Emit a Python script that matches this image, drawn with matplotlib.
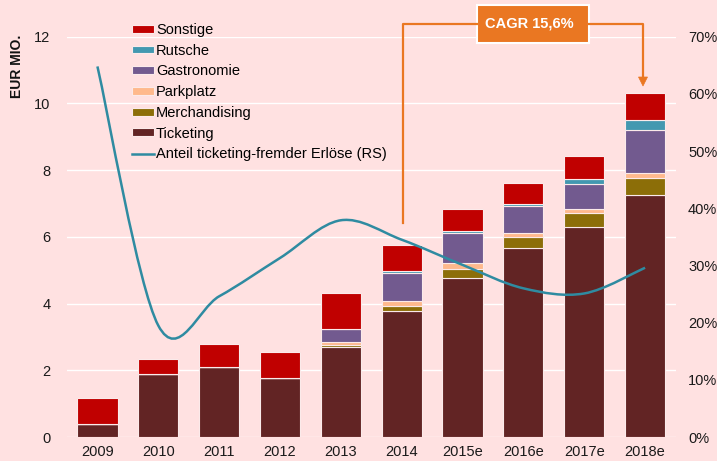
import matplotlib
matplotlib.use("Agg")
import matplotlib.pyplot as plt
import numpy as np
from matplotlib.path import Path
from matplotlib.patches import PathPatch, Rectangle
from matplotlib.lines import Line2D
from matplotlib.patches import Patch

plt.rcParams['font.family'] = ['Liberation Sans', 'DejaVu Sans']

years = ["2009", "2010", "2011", "2012", "2013", "2014", "2015e", "2016e", "2017e", "2018e"]
ticketing     = [0.39, 1.88, 2.09, 1.76, 2.69, 3.77, 4.78, 5.66, 6.31, 7.26]
merchandising = [0.00, 0.00, 0.00, 0.00, 0.08, 0.17, 0.27, 0.33, 0.40, 0.50]
parkplatz     = [0.00, 0.00, 0.00, 0.00, 0.07, 0.15, 0.16, 0.14, 0.13, 0.15]
gastronomie   = [0.00, 0.00, 0.00, 0.00, 0.39, 0.82, 0.92, 0.80, 0.74, 1.28]
rutsche       = [0.00, 0.00, 0.00, 0.00, 0.00, 0.06, 0.06, 0.05, 0.15, 0.30]
sonstige      = [0.78, 0.47, 0.71, 0.79, 1.08, 0.80, 0.63, 0.62, 0.69, 0.82]
anteil        = [0.648, 0.195, 0.246, 0.313, 0.379, 0.345, 0.301, 0.260, 0.251, 0.296]

left_ticks = [0, 2, 4, 6, 8, 10, 12]
right_ticks = [0, 0.1, 0.2, 0.3, 0.4, 0.5, 0.6, 0.7]
right_labels = ["0%", "10%", "20%", "30%", "40%", "50%", "60%", "70%"]

series = [
    ("Ticketing", ticketing, "#622424"),
    ("Merchandising", merchandising, "#8C6E08"),
    ("Parkplatz", parkplatz, "#FFB98C"),
    ("Gastronomie", gastronomie, "#725A8F"),
    ("Rutsche", rutsche, "#4398B0"),
    ("Sonstige", sonstige, "#C00000"),
]
line_color = "#2F8BA1"
bg = "#FFE1E1"
orange = "#EA7722"

W, H = 717, 461
fig = plt.figure(figsize=(W / 100, H / 100), dpi=100, facecolor=bg)
ax = fig.add_axes([67 / W, 1 - 437 / H, (675.5 - 67) / W, (437 - 36.7) / H])
ax.set_facecolor(bg)
ax2 = ax.twinx()

x = np.arange(len(years))
bottom = np.zeros(len(years))
handles = {}
for name, vals, col in series:
    v = np.array(vals)
    ax.bar(x, v, 0.66, bottom=bottom, color=col, edgecolor="#FBEAEA", linewidth=0.8, zorder=3)
    handles[name] = Patch(facecolor=col, edgecolor="#FBEAEA", linewidth=0.8)
    bottom += v

ax.set_xlim(-0.5, len(years) - 0.5)
ax.set_ylim(0, 12)
ax.set_yticks(left_ticks)
ax.set_xticks(x)
ax.set_xticklabels(years)
ax.grid(axis="y", color="white", linewidth=1.0, zorder=0)
ax.set_axisbelow(True)
for s in ax.spines.values():
    s.set_visible(False)
for s in ax2.spines.values():
    s.set_visible(False)
ax.tick_params(axis="both", length=0, labelsize=10.5, colors="#1a1a1a")
ax.tick_params(axis="y", pad=12)
ax.tick_params(axis="x", pad=6)

ax2.set_ylim(0, 0.7)
ax2.set_yticks(right_ticks)
ax2.set_yticklabels(right_labels)
ax2.tick_params(axis="y", length=0, labelsize=10.5, pad=9, colors="#1a1a1a")

# smoothed line (Excel-like Catmull-Rom Bezier) computed in display space
fig.canvas.draw()
pts = ax2.transData.transform(np.column_stack([x, anteil]))
verts = [pts[0]]
codes = [Path.MOVETO]
n = len(pts)
for i in range(n - 1):
    p0 = pts[max(i - 1, 0)]
    p1 = pts[i]
    p2 = pts[i + 1]
    p3 = pts[min(i + 2, n - 1)]
    c1 = p1 + (p2 - p0) / 6.0
    c2 = p2 - (p3 - p1) / 6.0
    verts += [c1, c2, p2]
    codes += [Path.CURVE4] * 3
verts = ax2.transData.inverted().transform(np.array(verts))
path = Path(verts, codes)
ax2.add_patch(PathPatch(path, facecolor="none", edgecolor=line_color, linewidth=1.8, zorder=5, clip_on=False))

# legend
order = ["Sonstige", "Rutsche", "Gastronomie", "Parkplatz", "Merchandising", "Ticketing"]
hl = [handles[k] for k in order] + [Line2D([0], [0], color=line_color, linewidth=1.8)]
labels = order + ["Anteil ticketing-fremder Erlöse (RS)"]
fig.legend(hl, labels, loc="upper left", bbox_to_anchor=(132 / W, 1 - 23 / H),
           frameon=False, fontsize=10.5, handlelength=1.5, handleheight=0.45,
           handletextpad=0.15, labelspacing=0.46, borderaxespad=0, borderpad=0)

# y label
fig.text(17 / W, 1 - 66 / H, "EUR MIO.", rotation=90, fontsize=10, fontweight="bold",
         ha="center", va="center", color="#111111")

# CAGR annotation
def fp(px, py):
    return (px / W, 1 - py / H)

lw = 1.6
fig.add_artist(Line2D([fp(477, 24)[0], fp(403, 24)[0], fp(403, 24)[0]],
                      [fp(477, 24)[1], fp(403, 24)[1], fp(403, 223)[1]],
                      color=orange, linewidth=lw, transform=fig.transFigure))
fig.add_artist(Line2D([fp(589, 24)[0], fp(643, 24)[0], fp(643, 24)[0]],
                      [fp(589, 24)[1], fp(643, 24)[1], fp(643, 78)[1]],
                      color=orange, linewidth=lw, transform=fig.transFigure))
tri = Path([fp(638.5, 77), fp(647.5, 77), fp(643, 86), fp(638.5, 77)],
           [Path.MOVETO, Path.LINETO, Path.LINETO, Path.CLOSEPOLY])
fig.add_artist(PathPatch(tri, facecolor=orange, edgecolor=orange, linewidth=0.5, transform=fig.transFigure))
bx0, by0 = fp(477, 43)
bx1, by1 = fp(589, 5)
fig.add_artist(Rectangle((bx0, by0), bx1 - bx0, by1 - by0, facecolor=orange, edgecolor="white",
                         linewidth=1.5, transform=fig.transFigure))
fig.text((bx0 + bx1) / 2 - 4 / W, (by0 + by1) / 2, "CAGR 15,6%", color="white", fontsize=10.5,
         fontweight="bold", ha="center", va="center")

fig.savefig("out.png", dpi=100, facecolor=bg)
